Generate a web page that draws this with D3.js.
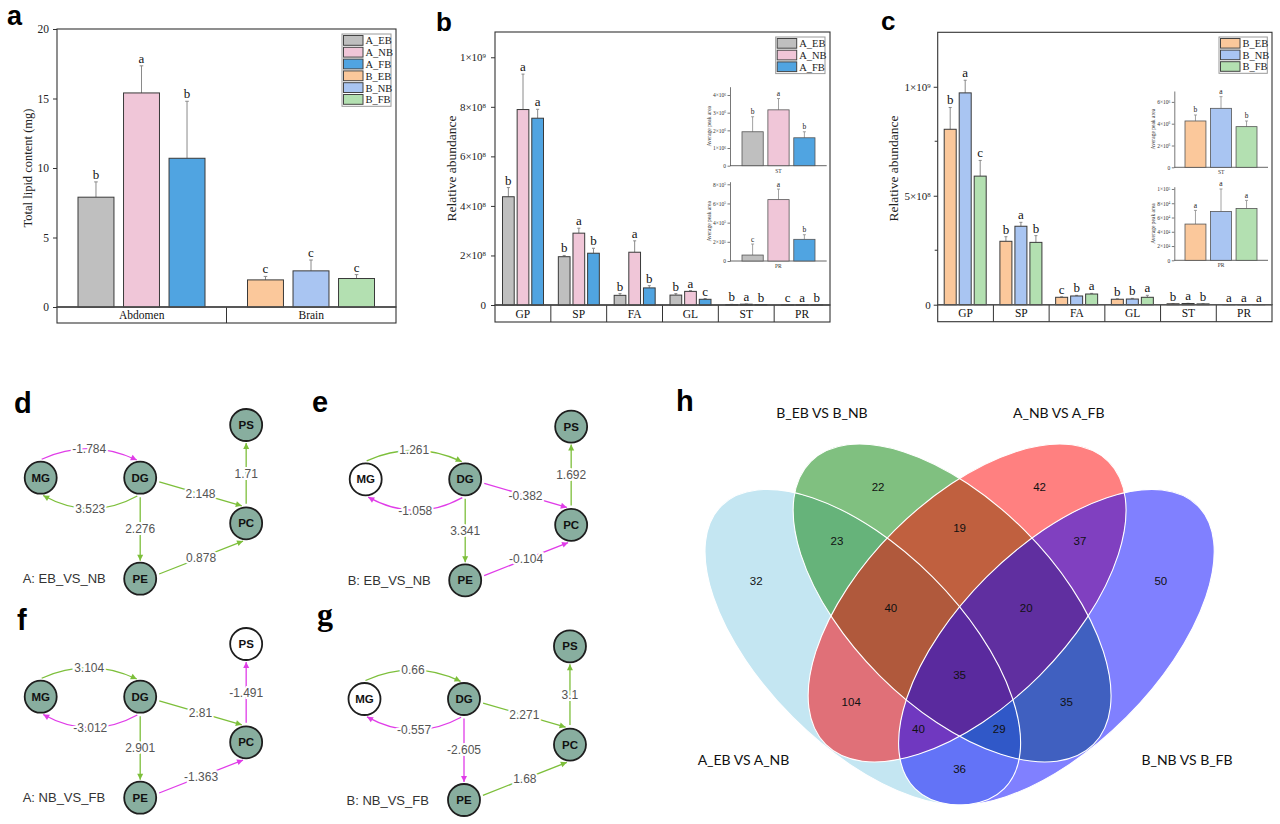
<!DOCTYPE html>
<html>
<head>
<meta charset="utf-8">
<script src="https://cdn.jsdelivr.net/npm/d3@7"></script>
<style>
  body { margin: 0; background: #fff; }
  svg { display: block; }
</style>
</head>
<body>
<svg width="1280" height="824"></svg>
<script>
// ---------- data ----------
// panel a: total lipid
const lipidTissues = ['Abdomen', 'Brain']
const lipidGroups = ['A_EB', 'A_NB', 'A_FB', 'B_EB', 'B_NB', 'B_FB']
const lipidMean = [7.9, 15.4, 10.7, 1.95, 2.6, 2.05]
const lipidSd = [1.1, 1.95, 4.1, 0.25, 0.78, 0.28]
const lipidLetters = ['b', 'a', 'b', 'c', 'c', 'c']
const lipidTicks = [0, 5, 10, 15, 20]

// panels b/c: lipid classes
const classes = ['GP', 'SP', 'FA', 'GL', 'ST', 'PR']
const aEB = [4.37e8, 1.95e8, 3.9e7, 4.0e7, 1.92e6, 6.2e4]
const aNB = [7.89e8, 2.9e8, 2.13e8, 5.5e7, 3.16e6, 6.4e5]
const aFB = [7.54e8, 2.09e8, 6.9e7, 2.3e7, 1.58e6, 2.26e5]
const aEBsd = [3.7e7, 5e6, 7e6, 6e6, 8.5e5, 1.15e5]
const aNBsd = [1.43e8, 2e7, 4.6e7, 3e6, 6.4e5, 1.1e5]
const aFBsd = [3.6e7, 2e7, 9e6, 3e6, 3.4e5, 4.8e4]
const aLetters = [['b', 'a', 'a'], ['b', 'a', 'b'], ['b', 'a', 'b'], ['b', 'a', 'c'], ['b', 'a', 'b'], ['c', 'a', 'b']]

const bEB = [8.05e8, 2.91e8, 3.4e7, 2.5e7, 4.25e6, 5.08e4]
const bNB = [9.72e8, 3.6e8, 4.0e7, 2.6e7, 5.41e6, 6.85e4]
const bFB = [5.9e8, 2.86e8, 4.9e7, 3.4e7, 3.73e6, 7.27e4]
const bEBsd = [1.0e8, 2.1e7, 2e6, 2e6, 5.5e5, 1.92e4]
const bNBsd = [5.8e7, 1.8e7, 3e6, 3e6, 1.07e6, 3.15e4]
const bFBsd = [7.2e7, 3.1e7, 3e6, 9e6, 5.2e5, 1.13e4]
const bLetters = [['b', 'a', 'c'], ['b', 'a', 'b'], ['c', 'b', 'a'], ['b', 'b', 'a'], ['b', 'a', 'b'], ['a', 'a', 'a']]

const ticksB = [0, 2e8, 4e8, 6e8, 8e8, 1e9]
const ticksC = [0, 5e8, 1e9]
const minorC = [2.5e8, 7.5e8]
const ticksBST = [0, 1e6, 2e6, 3e6, 4e6]
const ticksBPR = [0, 2e5, 4e5, 6e5, 8e5]
const ticksCST = [0, 2e6, 4e6, 6e6]
const ticksCPR = [0, 2e4, 4e4, 6e4, 8e4, 1e5]

// panels d-g: networks
const netNames = ['MG', 'DG', 'PS', 'PC', 'PE']
const netLinks = [[0, 1], [1, 0], [1, 3], [3, 2], [1, 4], [4, 3]]
const netD = [-1.784, 3.523, 2.148, 1.71, 2.276, 0.878]
const netE = [1.261, -1.058, -0.382, 1.692, 3.341, -0.104]
const netF = [3.104, -3.012, 2.81, -1.491, 2.901, -1.363]
const netG = [0.66, -0.557, 2.271, 3.1, -2.605, 1.68]
const netTitles = ['A: EB_VS_NB', 'B: EB_VS_NB', 'A: NB_VS_FB', 'B: NB_VS_FB']
const netBlank = [[], ['MG'], ['PS'], ['MG']]

// panel h: venn
const vennSets = ['A_EB VS A_NB', 'B_EB VS B_NB', 'A_NB VS A_FB', 'B_NB VS B_FB']
const vennKeys = ['A', 'B', 'C', 'D', 'AB', 'BC', 'CD', 'AC', 'BD', 'AD', 'ABC', 'BCD', 'ACD', 'ABD', 'ABCD']
const vennCounts = [32, 22, 42, 50, 23, 19, 37, 104, 35, 36, 40, 20, 40, 29, 35]

// ---------- styles ----------
const serif = '"Liberation Serif", "Times New Roman", serif'
const sans = '"Liberation Sans", Arial, sans-serif'
const colA = ['#bfbfbf', '#f0c6d8', '#50a4e1']
const colB = ['#fbc89b', '#a9c5f2', '#b3e0b1']
const svg = d3.select('svg')

// m×10^e labels
function sci(sel, v) {
  if (v === 0) { sel.text('0'); return }
  const e = Math.floor(Math.log10(v) + 1e-9)
  const m = Math.round(v / Math.pow(10, e))
  sel.text(null)
  sel.append('tspan').text(m + '×10')
  sel.append('tspan').attr('dy', '-0.45em').attr('font-size', '0.62em').text(e)
}

function panelLetter(t, x, y, size, font) {
  svg.append('text').attr('x', x).attr('y', y).attr('font-family', font || sans)
    .attr('font-weight', 'bold').attr('font-size', size).attr('fill', '#000').text(t)
}

// grouped bars with category strip
function barPanel(p) {
  const g = svg.append('g')
  const x = d3.scaleBand().domain(p.cats).range([p.left, p.right])
  const xi = d3.scaleBand().domain([0, 1, 2]).range(p.inner).paddingInner(p.pad)
  const y = d3.scaleLinear().domain([0, p.yMax]).range([p.bottom, p.top])

  // category strip
  g.append('rect').attr('x', p.left).attr('y', p.bottom).attr('width', p.right - p.left)
    .attr('height', p.stripH).attr('fill', 'none').attr('stroke', '#333').attr('stroke-width', 1.1)
  p.cats.forEach((c, i) => {
    if (i > 0) g.append('line').attr('x1', x(c)).attr('x2', x(c)).attr('y1', p.bottom).attr('y2', p.bottom + p.stripH)
      .attr('stroke', '#333').attr('stroke-width', 1)
    g.append('text').attr('x', x(c) + x.bandwidth() / 2).attr('y', p.bottom + p.stripH / 2)
      .attr('dy', '0.36em').attr('text-anchor', 'middle').attr('font-family', serif)
      .attr('font-size', p.catFont).attr('fill', '#111').text(c)
  })

  // axis
  const ax = g.append('g').attr('transform', `translate(${p.left},0)`)
    .call(d3.axisLeft(y).tickValues(p.ticks).tickSize(4).tickSizeOuter(0).tickPadding(p.tickPad))
  ax.select('.domain').remove()
  ax.selectAll('line').attr('stroke', '#333')
  ax.selectAll('text').attr('font-family', serif).attr('font-size', p.tickFont).attr('fill', '#222')
  if (p.sci) ax.selectAll('.tick text').each(function (d) { sci(d3.select(this), d) })
  ;(p.minor || []).forEach(v => g.append('line').attr('x1', p.left - 3).attr('x2', p.left)
    .attr('y1', y(v)).attr('y2', y(v)).attr('stroke', '#333'))

  g.append('text').attr('transform', `translate(${p.ylabX},${(p.top + p.bottom) / 2}) rotate(-90)`)
    .attr('text-anchor', 'middle').attr('font-family', serif).attr('font-size', p.ylabFont)
    .attr('fill', '#222').text(p.ylab)

  // bars
  const rows = p.cats.flatMap((c, ci) => [0, 1, 2].map(k => ({
    c, k, v: p.vals[k][ci], sd: p.sds[k][ci], L: p.letters[ci][k], col: p.colors[ci][k]
  })))
  const bx = d => x(d.c) + xi(d.k)
  g.selectAll('.err').data(rows).join('path')
    .attr('d', d => {
      const cx = bx(d) + xi.bandwidth() / 2, yt = y(d.v + d.sd)
      return `M${cx},${y(d.v)}V${yt}M${cx - p.cap},${yt}H${cx + p.cap}`
    })
    .attr('stroke', '#8a8a8a').attr('stroke-width', 1).attr('fill', 'none')
  g.selectAll('.bar').data(rows).join('rect')
    .attr('x', bx).attr('width', xi.bandwidth())
    .attr('y', d => y(d.v)).attr('height', d => y(0) - y(d.v))
    .attr('fill', d => d.col).attr('stroke', '#3a3a3a').attr('stroke-width', 1)
  g.selectAll('.sig').data(rows).join('text')
    .attr('x', d => bx(d) + xi.bandwidth() / 2).attr('y', d => y(d.v + d.sd) - 3)
    .attr('text-anchor', 'middle').attr('font-family', serif).attr('font-size', p.sigFont)
    .attr('fill', '#111').text(d => d.L)

  // frame
  g.append('rect').attr('x', p.left).attr('y', p.top).attr('width', p.right - p.left)
    .attr('height', p.bottom - p.top).attr('fill', 'none').attr('stroke', '#333').attr('stroke-width', 1.1)
  g.append('line').attr('x1', p.left).attr('x2', p.right).attr('y1', y(0)).attr('y2', y(0))
    .attr('stroke', '#555').attr('stroke-width', 1.2)
}

function legend(x0, y0, w, rowH, names, cols) {
  const g = svg.append('g')
  g.append('rect').attr('x', x0).attr('y', y0).attr('width', w).attr('height', rowH * names.length + 1.5)
    .attr('fill', '#fff').attr('stroke', '#999').attr('stroke-width', 1)
  names.forEach((n, i) => {
    g.append('rect').attr('x', x0 + 1.5).attr('y', y0 + 1.5 + i * rowH).attr('width', 19.5)
      .attr('height', rowH - 2).attr('fill', cols[i]).attr('stroke', '#444').attr('stroke-width', 1)
    g.append('text').attr('x', x0 + 23.5).attr('y', y0 + 0.75 + (i + 0.5) * rowH).attr('dy', '0.35em')
      .attr('font-family', serif).attr('font-size', 10.5).attr('fill', '#222').text(n)
  })
}

function inset(p) {
  const g = svg.append('g')
  const y = d3.scaleLinear().domain([0, p.yMax]).range([p.bottom, p.top])
  const xi = d3.scaleBand().domain([0, 1, 2]).range(p.bars).paddingInner(0.18)
  const ax = g.append('g').attr('transform', `translate(${p.left},0)`)
    .call(d3.axisLeft(y).tickValues(p.ticks).tickSize(2.5).tickSizeOuter(0).tickPadding(1.5))
  ax.selectAll('path,line').attr('stroke', '#555').attr('stroke-width', 0.8)
  ax.selectAll('text').attr('font-family', serif).attr('font-size', 5.5).attr('fill', '#333')
  ax.selectAll('.tick text').each(function (d) { sci(d3.select(this), d) })
  g.append('line').attr('x1', p.left).attr('x2', p.right).attr('y1', p.bottom).attr('y2', p.bottom)
    .attr('stroke', '#555').attr('stroke-width', 0.9)
  const rows = [0, 1, 2].map(k => ({ k, v: p.vals[k], sd: p.sds[k], L: p.letters[k], col: p.colors[k] }))
  g.selectAll('.err').data(rows).join('path')
    .attr('d', d => {
      const cx = xi(d.k) + xi.bandwidth() / 2, yt = y(d.v + d.sd)
      return `M${cx},${y(d.v)}V${yt}M${cx - 1.5},${yt}H${cx + 1.5}`
    })
    .attr('stroke', '#8a8a8a').attr('stroke-width', 0.8).attr('fill', 'none')
  g.selectAll('.bar').data(rows).join('rect')
    .attr('x', d => xi(d.k)).attr('width', xi.bandwidth())
    .attr('y', d => y(d.v)).attr('height', d => y(0) - y(d.v))
    .attr('fill', d => d.col).attr('stroke', '#555').attr('stroke-width', 0.8)
  g.selectAll('.sig').data(rows).join('text')
    .attr('x', d => xi(d.k) + xi.bandwidth() / 2).attr('y', d => y(d.v + d.sd) - 2.5)
    .attr('text-anchor', 'middle').attr('font-family', serif).attr('font-size', 7.5)
    .attr('fill', '#222').text(d => d.L)
  g.append('text').attr('x', (p.left + p.right) / 2).attr('y', p.bottom + 7)
    .attr('text-anchor', 'middle').attr('font-family', serif).attr('font-size', 5.5)
    .attr('fill', '#333').text(p.label)
  g.append('text').attr('transform', `translate(${p.ylabX},${(p.top + p.bottom) / 2}) rotate(-90)`)
    .attr('text-anchor', 'middle').attr('font-family', serif).attr('font-size', 5.5)
    .attr('fill', '#333').text('Average peak area')
}

// ---------- panel a ----------
panelLetter('a', 7, 25, 27)
barPanel({
  left: 57, right: 396, top: 29, bottom: 307, stripH: 16, yMax: 20,
  cats: lipidTissues, inner: [21, 148], pad: 0.21,
  vals: [0, 1, 2].map(k => [lipidMean[k], lipidMean[k + 3]]),
  sds: [0, 1, 2].map(k => [lipidSd[k], lipidSd[k + 3]]),
  letters: [lipidLetters.slice(0, 3), lipidLetters.slice(3)],
  colors: [colA, colB],
  ticks: lipidTicks, tickPad: 4, tickFont: 11.5, catFont: 11.5, sigFont: 13, cap: 1.8,
  ylab: 'Total lipid content (mg)', ylabX: 32, ylabFont: 12.5
})
legend(342, 34, 49, 11.8, lipidGroups, colA.concat(colB))

// ---------- panel b ----------
panelLetter('b', 436, 31, 26)
barPanel({
  left: 495, right: 830, top: 32, bottom: 305, stripH: 17, yMax: 1.102e9,
  cats: classes, inner: [7.5, 48.5], pad: 0.2,
  vals: [aEB, aNB, aFB], sds: [aEBsd, aNBsd, aFBsd], letters: aLetters,
  colors: classes.map(() => colA),
  ticks: ticksB, sci: true, tickPad: 5, tickFont: 11, catFont: 11.5, sigFont: 13, cap: 1.5,
  ylab: 'Relative abundance', ylabX: 456, ylabFont: 13.5
})
legend(775.7, 37, 49.3, 11.7, ['A_EB', 'A_NB', 'A_FB'], colA)
inset({ left: 730, right: 826.7, top: 86.7, bottom: 165.7, yMax: 4.47e6, ticks: ticksBST, bars: [742, 815],
  vals: [aEB[4], aNB[4], aFB[4]], sds: [aEBsd[4], aNBsd[4], aFBsd[4]],
  letters: aLetters[4], colors: colA, label: 'ST', ylabX: 711 })
inset({ left: 730, right: 826.7, top: 181.7, bottom: 261, yMax: 8.27e5, ticks: ticksBPR, bars: [742, 815],
  vals: [aEB[5], aNB[5], aFB[5]], sds: [aEBsd[5], aNBsd[5], aFBsd[5]],
  letters: aLetters[5], colors: colA, label: 'PR', ylabX: 711 })

// ---------- panel c ----------
panelLetter('c', 881, 30, 26)
barPanel({
  left: 937.7, right: 1272, top: 32.3, bottom: 304.7, stripH: 17, yMax: 1.25e9,
  cats: classes, inner: [6.5, 48.5], pad: 0.2,
  vals: [bEB, bNB, bFB], sds: [bEBsd, bNBsd, bFBsd], letters: bLetters,
  colors: classes.map(() => colB),
  ticks: ticksC, minor: minorC, sci: true, tickPad: 3, tickFont: 11, catFont: 11.5, sigFont: 13, cap: 1.5,
  ylab: 'Relative abundance', ylabX: 898, ylabFont: 13.5
})
legend(1219, 37, 48.3, 11.6, ['B_EB', 'B_NB', 'B_FB'], colB)
inset({ left: 1174.3, right: 1268, top: 91, bottom: 167.3, yMax: 7.0e6, ticks: ticksCST, bars: [1185, 1257],
  vals: [bEB[4], bNB[4], bFB[4]], sds: [bEBsd[4], bNBsd[4], bFBsd[4]],
  letters: bLetters[4], colors: colB, label: 'ST', ylabX: 1155 })
inset({ left: 1174.3, right: 1268, top: 186.7, bottom: 260.3, yMax: 1.032e5, ticks: ticksCPR, bars: [1185, 1257],
  vals: [bEB[5], bNB[5], bFB[5]], sds: [bEBsd[5], bNBsd[5], bFBsd[5]],
  letters: bLetters[5], colors: colB, label: 'PR', ylabX: 1155 })

// ---------- panels d-g: networks ----------
// node layout in units, scaled per panel
const netX = [0, 1, 2.065, 2.065, 1]
const netY = [0, 0, -0.527, 0.456, 1.01]
// attachment angles / arc bulge for each link
const linkGeom = [
  { a0: -87, a1: -101, bulge: -22 },
  { a0: 99, a1: 82, bulge: 26 },
  { a0: 12, a1: -104 },
  { a0: -90, a1: 90 },
  { a0: 90, a1: -90 },
  { a0: -14, a1: 100 }
]
const green = '#7dbf3b', magenta = '#e03ce8'

function network(ox, oy, vals, blank, title) {
  const g = svg.append('g')
  const x = d3.scaleLinear().domain([0, 1]).range([ox, ox + 99.5])
  const y = d3.scaleLinear().domain([0, 1]).range([oy, oy + 100])
  const P = i => [x(netX[i]), y(netY[i])]
  const at = (i, ang, r) => {
    const [cx, cy] = P(i), a = ang * Math.PI / 180
    return [cx + r * Math.cos(a), cy + r * Math.sin(a)]
  }
  netLinks.forEach(([s, t], li) => {
    const geo = linkGeom[li], col = vals[li] < 0 ? magenta : green
    const p0 = at(s, geo.a0, geo.bulge ? 18.5 : 19.5), p1 = at(t, geo.a1, 18)
    let d, mid, dir
    if (geo.bulge) {
      const c = [(p0[0] + p1[0]) / 2, (p0[1] + p1[1]) / 2 + geo.bulge]
      d = `M${p0}Q${c} ${p1}`
      mid = [(p0[0] + 2 * c[0] + p1[0]) / 4, (p0[1] + 2 * c[1] + p1[1]) / 4]
      dir = [p1[0] - c[0], p1[1] - c[1]]
    } else {
      d = `M${p0}L${p1}`
      mid = [(p0[0] + p1[0]) / 2, (p0[1] + p1[1]) / 2]
      dir = [p1[0] - p0[0], p1[1] - p0[1]]
    }
    const n = Math.hypot(dir[0], dir[1]), ux = dir[0] / n, uy = dir[1] / n
    const L = 6, W = 3
    const b = [p1[0] - ux * L, p1[1] - uy * L]
    g.append('path').attr('d', d).attr('fill', 'none').attr('stroke', col).attr('stroke-width', 1.3)
    g.append('path').attr('d', `M${p1}L${b[0] - uy * W},${b[1] + ux * W}L${b[0] + uy * W},${b[1] - ux * W}Z`)
      .attr('fill', col)
    g.append('text').attr('x', mid[0]).attr('y', mid[1]).attr('dy', '0.35em').attr('text-anchor', 'middle')
      .attr('font-family', sans).attr('font-size', 12).attr('fill', '#555')
      .attr('stroke', '#fff').attr('stroke-width', 4).attr('paint-order', 'stroke')
      .text(vals[li])
  })
  netNames.forEach((nm, i) => {
    const [cx, cy] = P(i)
    g.append('circle').attr('cx', cx).attr('cy', cy).attr('r', 16)
      .attr('fill', blank.includes(nm) ? '#fff' : '#88ae9f').attr('stroke', '#1e1e1e').attr('stroke-width', 1.8)
    g.append('text').attr('x', cx).attr('y', cy).attr('dy', '0.36em').attr('text-anchor', 'middle')
      .attr('font-family', sans).attr('font-weight', 'bold').attr('font-size', 11.5).attr('fill', '#111').text(nm)
  })
  g.append('text').attr('x', ox - 18).attr('y', y(netY[4])).attr('dy', '0.35em')
    .attr('font-family', sans).attr('font-size', 13).attr('fill', '#333').text(title)
}

panelLetter('d', 14, 413, 29)
panelLetter('e', 312, 412, 29)
panelLetter('f', 17, 630, 29)
panelLetter('g', 317, 625, 32, serif)
network(40.7, 477.7, netD, netBlank[0], netTitles[0])
network(365.7, 479.3, netE, netBlank[1], netTitles[1])
network(40.7, 696.7, netF, netBlank[2], netTitles[2])
network(364.5, 699, netG, netBlank[3], netTitles[3])

// ---------- panel h: venn ----------
panelLetter('h', 676, 411, 29)
const ellipses = {
  A: [862.8, 647.2, 200, 99, 45],
  B: [952.1, 603, 200, 102.6, 45],
  C: [967.1, 603, 200, 102.6, -45],
  D: [1056.4, 647.2, 200, 99, -45]
}
const regionStyle = {
  A: { c: '#c4e6f2', p: [756.2, 581] }, B: { c: '#80c080', p: [878.1, 486.7] },
  C: { c: '#ff8080', p: [1039.6, 486.7] }, D: { c: '#8080ff', p: [1160.8, 581] },
  AB: { c: '#66b37a', p: [836.9, 541] }, BC: { c: '#c0603f', p: [959.6, 527.7] },
  CD: { c: '#8040c0', p: [1080, 541] }, AC: { c: '#e07078', p: [851.2, 702.3] },
  BD: { c: '#4060c0', p: [1066.5, 702.3] }, AD: { c: '#6373f7', p: [959.6, 769.3] },
  ABC: { c: '#b0593c', p: [890.8, 607.7] }, BCD: { c: '#602fa0', p: [1026.2, 607.7] },
  ACD: { c: '#7038c0', p: [918.5, 729] }, ABD: { c: '#3058c8', p: [999.2, 729] },
  ABCD: { c: '#5a2a9e', p: [959.6, 675] }
}
const defs = svg.append('defs')
const setIds = ['A', 'B', 'C', 'D']
const addEll = (sel, k) => {
  const [cx, cy, rx, ry, rot] = ellipses[k]
  return sel.append('ellipse').attr('cx', cx).attr('cy', cy).attr('rx', rx).attr('ry', ry)
    .attr('transform', `rotate(${rot},${cx},${cy})`)
}
setIds.forEach(k => addEll(defs.append('clipPath').attr('id', 'clip' + k), k))
vennKeys.forEach(key => {
  const m = defs.append('mask').attr('id', 'mask' + key).attr('maskUnits', 'userSpaceOnUse')
    .attr('x', 600).attr('y', 330).attr('width', 680).attr('height', 494)
  m.append('rect').attr('x', 600).attr('y', 330).attr('width', 680).attr('height', 494).attr('fill', '#fff')
  setIds.filter(k => !key.includes(k)).forEach(k => addEll(m, k).attr('fill', '#000'))
})
const vg = svg.append('g')
vennKeys.forEach(key => {
  let inner = vg.append('g').attr('mask', `url(#mask${key})`)
  key.split('').forEach(k => { inner = inner.append('g').attr('clip-path', `url(#clip${k})`) })
  inner.append('rect').attr('x', 600).attr('y', 330).attr('width', 680).attr('height', 494)
    .attr('fill', regionStyle[key].c)
})
setIds.forEach(k => addEll(vg, k).attr('fill', 'none').attr('stroke', '#fff').attr('stroke-width', 1.1))
vennKeys.forEach((key, i) => {
  const [px, py] = regionStyle[key].p
  vg.append('text').attr('x', px).attr('y', py).attr('dy', '0.35em').attr('text-anchor', 'middle')
    .attr('font-family', sans).attr('font-size', 11.5).attr('fill', '#111').text(vennCounts[i])
})
const vennTitlePos = [[743.5, 760], [822, 413], [1058.8, 413], [1187, 760]]
vennSets.forEach((s, i) => {
  vg.append('text').attr('x', vennTitlePos[i][0]).attr('y', vennTitlePos[i][1]).attr('dy', '0.35em')
    .attr('text-anchor', 'middle').attr('font-family', 'Lato, "Open Sans", sans-serif')
    .attr('font-size', 14).attr('fill', '#111').text(s)
})
</script>
</body>
</html>
